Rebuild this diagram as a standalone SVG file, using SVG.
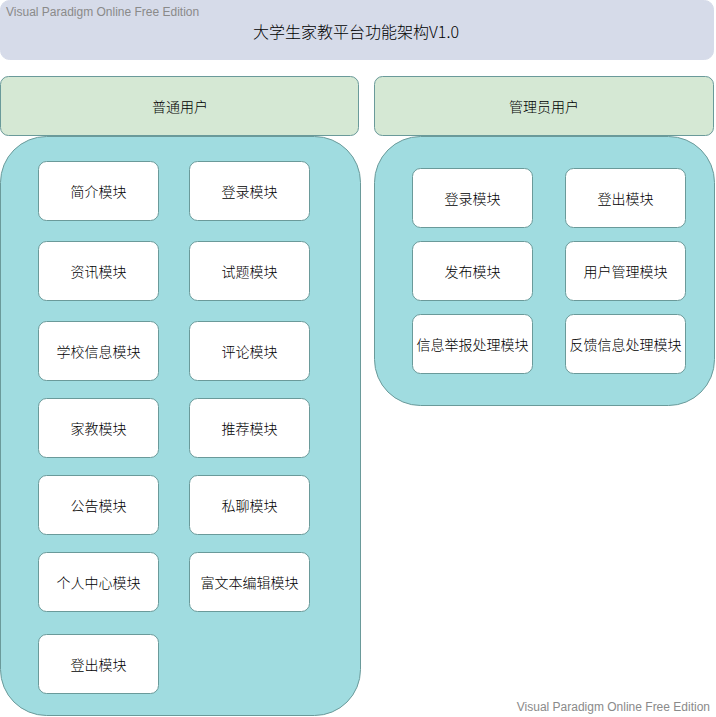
<svg xmlns="http://www.w3.org/2000/svg" width="716" height="717" viewBox="0 0 716 717">
<style>
.hdr{fill:#d6dbe9;stroke:#d6dbe9;stroke-width:1}
.role{fill:#d5e8d4;stroke:#6a9a9a;stroke-width:1}
.cont{fill:#a0dce0;stroke:#6a9a9a;stroke-width:1}
.mod{fill:#ffffff;stroke:#6a9a9a;stroke-width:1}
text{font-family:"Noto Sans CJK SC","Liberation Sans",sans-serif;text-anchor:middle;dominant-baseline:central;fill:#000;font-weight:300}
.t{font-size:14px}
.title{font-size:16px}
.wm{font-family:"Liberation Sans",Arial,sans-serif;font-size:12px;fill:#8a8a8a;dominant-baseline:auto;font-weight:normal}
</style>
<g id="header">
<rect class="hdr" x="0.5" y="0.5" width="713" height="59" rx="9"/>
<text class="title" x="356" y="31">大学生家教平台功能架构V1.0</text>
</g>
<text class="wm" x="6" y="16" style="text-anchor:start">Visual Paradigm Online Free Edition</text>
<g id="role-user">
<rect class="role" x="0.5" y="76.5" width="358" height="59" rx="8"/>
<text class="t" x="180" y="106">普通用户</text>
</g>
<g id="role-admin">
<rect class="role" x="374.5" y="76.5" width="339" height="59" rx="8"/>
<text class="t" x="544" y="106">管理员用户</text>
</g>
<g id="container-user">
<rect class="cont" x="0.5" y="136.5" width="360" height="579" rx="46"/>
</g>
<g id="container-admin">
<rect class="cont" x="374.5" y="136.5" width="340" height="269" rx="46"/>
</g>
<g id="u1"><rect class="mod" x="38.5" y="161.5" width="120" height="59" rx="8"/><text class="t" x="98.5" y="191">简介模块</text></g>
<g id="u2"><rect class="mod" x="189.5" y="161.5" width="120" height="59" rx="8"/><text class="t" x="249.5" y="191">登录模块</text></g>
<g id="u3"><rect class="mod" x="38.5" y="241.5" width="120" height="59" rx="8"/><text class="t" x="98.5" y="271">资讯模块</text></g>
<g id="u4"><rect class="mod" x="189.5" y="241.5" width="120" height="59" rx="8"/><text class="t" x="249.5" y="271">试题模块</text></g>
<g id="u5"><rect class="mod" x="38.5" y="321.5" width="120" height="59" rx="8"/><text class="t" x="98.5" y="351">学校信息模块</text></g>
<g id="u6"><rect class="mod" x="189.5" y="321.5" width="120" height="59" rx="8"/><text class="t" x="249.5" y="351">评论模块</text></g>
<g id="u7"><rect class="mod" x="38.5" y="398.5" width="120" height="59" rx="8"/><text class="t" x="98.5" y="428">家教模块</text></g>
<g id="u8"><rect class="mod" x="189.5" y="398.5" width="120" height="59" rx="8"/><text class="t" x="249.5" y="428">推荐模块</text></g>
<g id="u9"><rect class="mod" x="38.5" y="475.5" width="120" height="59" rx="8"/><text class="t" x="98.5" y="505">公告模块</text></g>
<g id="u10"><rect class="mod" x="189.5" y="475.5" width="120" height="59" rx="8"/><text class="t" x="249.5" y="505">私聊模块</text></g>
<g id="u11"><rect class="mod" x="38.5" y="552.5" width="120" height="59" rx="8"/><text class="t" x="98.5" y="582">个人中心模块</text></g>
<g id="u12"><rect class="mod" x="189.5" y="552.5" width="120" height="59" rx="8"/><text class="t" x="249.5" y="582">富文本编辑模块</text></g>
<g id="u13"><rect class="mod" x="38.5" y="634.5" width="120" height="59" rx="8"/><text class="t" x="98.5" y="664">登出模块</text></g>
<g id="a1"><rect class="mod" x="412.5" y="168.5" width="120" height="59" rx="8"/><text class="t" x="472.5" y="198">登录模块</text></g>
<g id="a2"><rect class="mod" x="565.5" y="168.5" width="120" height="59" rx="8"/><text class="t" x="625.5" y="198">登出模块</text></g>
<g id="a3"><rect class="mod" x="412.5" y="241.5" width="120" height="59" rx="8"/><text class="t" x="472.5" y="271">发布模块</text></g>
<g id="a4"><rect class="mod" x="565.5" y="241.5" width="120" height="59" rx="8"/><text class="t" x="625.5" y="271">用户管理模块</text></g>
<g id="a5"><rect class="mod" x="412.5" y="314.5" width="120" height="59" rx="8"/><text class="t" x="472.5" y="344">信息举报处理模块</text></g>
<g id="a6"><rect class="mod" x="565.5" y="314.5" width="120" height="59" rx="8"/><text class="t" x="625.5" y="344">反馈信息处理模块</text></g>
<g id="connectors"></g>
<text class="wm" x="710" y="711" style="text-anchor:end">Visual Paradigm Online Free Edition</text>
</svg>
